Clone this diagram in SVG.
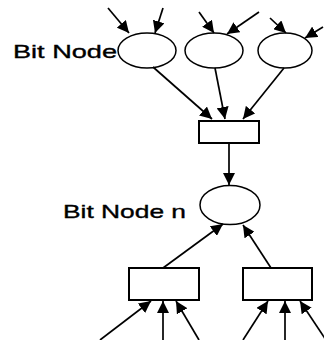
<svg xmlns="http://www.w3.org/2000/svg" width="324" height="340" viewBox="0 0 324 340">
<style>
.n{fill:#fff;stroke:#000;stroke-width:1.5}
.r{fill:#fff;stroke:#000;stroke-width:2}
.c line{stroke:#000;stroke-width:1.7;marker-end:url(#ah)}
.t{font-family:"Liberation Sans",Arial,sans-serif;font-size:18.5px;fill:#000;stroke:#000;stroke-width:0.35}
</style>
<defs>
<marker id="ah" markerUnits="userSpaceOnUse" markerWidth="12" markerHeight="12" viewBox="0 0 10 10" refX="10" refY="5" orient="auto">
<path d="M0,0 L10,5 L0,10 z" fill="#000"/>
</marker>
</defs>
<rect width="324" height="340" fill="#fff"/>
<g id="bit1"><ellipse class="n" cx="147" cy="50.5" rx="29" ry="17.5"/></g>
<g id="bit2"><ellipse class="n" cx="214" cy="50.5" rx="29" ry="17.5"/></g>
<g id="bit3"><ellipse class="n" cx="285" cy="50.5" rx="27" ry="17.5"/></g>
<g id="label1"><text class="t" x="13" y="58" textLength="104" lengthAdjust="spacingAndGlyphs">Bit Node</text></g>
<g id="check1"><rect class="r" x="199" y="121" width="60" height="22"/></g>
<g id="bitn"><ellipse class="n" cx="230" cy="205" rx="30" ry="19.5"/></g>
<g id="label2"><text class="t" x="63" y="218" textLength="123" lengthAdjust="spacingAndGlyphs">Bit Node n</text></g>
<g id="check2"><rect class="r" x="129" y="268" width="70" height="32"/></g>
<g id="check3"><rect class="r" x="243" y="268" width="69" height="32"/></g>
<g id="connectors" class="c">
<line x1="108" y1="8" x2="129" y2="33"/>
<line x1="163" y1="8" x2="155" y2="33"/>
<line x1="199" y1="12" x2="214" y2="33"/>
<line x1="259" y1="12" x2="227" y2="34"/>
<line x1="270" y1="18" x2="286" y2="33"/>
<line x1="323" y1="27" x2="305" y2="38"/>
<line x1="153" y1="67" x2="212" y2="119"/>
<line x1="215" y1="68" x2="225" y2="119"/>
<line x1="284" y1="68" x2="243" y2="119"/>
<line x1="229" y1="143" x2="229" y2="185"/>
<line x1="163" y1="268" x2="223" y2="224"/>
<line x1="271" y1="268" x2="243" y2="225"/>
<line x1="100" y1="340" x2="151" y2="301"/>
<line x1="163" y1="340" x2="163" y2="301"/>
<line x1="199" y1="340" x2="176" y2="301"/>
<line x1="243" y1="340" x2="268" y2="301"/>
<line x1="285" y1="340" x2="285" y2="301"/>
<line x1="326" y1="340" x2="300" y2="301"/>
</g>
</svg>
